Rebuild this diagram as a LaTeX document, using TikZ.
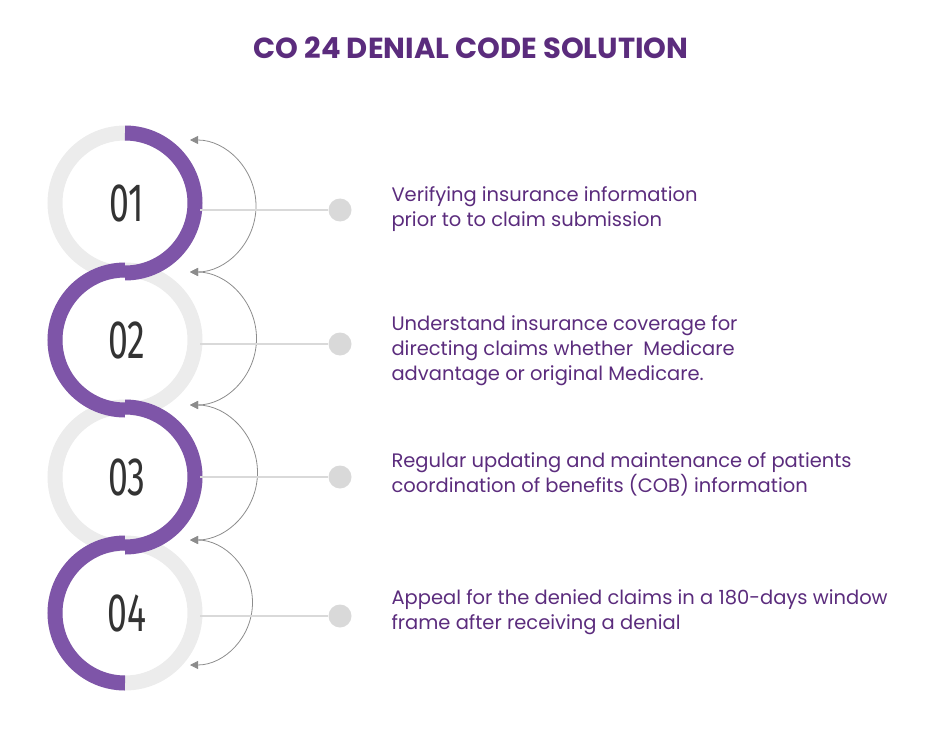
\documentclass[tikz,border=0pt]{standalone}
\usepackage{fontspec}
\setmainfont{Poppins}
\newfontfamily\numfont{Fira Sans}
\usetikzlibrary{arrows.meta,positioning}
\definecolor{plum}{HTML}{5B2C7D}
\definecolor{lilac}{HTML}{7E55A8}
\tikzset{
    ringsty/.style={line width=15pt,draw=lilac},
    shadesty/.style={line width=15pt,draw=gray!15},
    arcsty/.style={draw=gray!90,line width=0.8pt,{Triangle[width=8pt,length=8pt]}-{Triangle[width=8pt,length=8pt]}},
    linksty/.style={draw=gray!30,line width=2pt},
    dotsty/.style={circle,fill=gray!30,minimum size=23pt,inner sep=0pt},
    numsty/.style={font=\numfont\fontsize{54}{54}\selectfont,text=black!80,xscale=0.66},
    textsty/.style={anchor=west,align=left,text=plum,font=\fontsize{19.5}{25}\selectfont},
}
\begin{document}
\begin{tikzpicture}[x=1pt,y=-1pt]
\useasboundingbox (0,0) rectangle (942,746);
\node[font=\bfseries\fontsize{29}{32}\selectfont,text=plum] (title) at (471,48) {CO 24 DENIAL CODE SOLUTION};
% rings
\foreach \i/\y in {1/203,2/340,3/477,4/613}{
  \draw[shadesty] (125,\y) circle (70);
  \fill[white] (125,\y) circle (62);
}
\draw[ringsty] (125,133) arc (-90:90:70);
\draw[ringsty] (125,270) arc (-90:-270:70);
\draw[ringsty] (125,407) arc (-90:90:70);
\draw[ringsty] (125,543) arc (-90:-270:70);
% numbers
\node[numsty] (n1) at (127,203) {01};
\node[numsty] (n2) at (127,340) {02};
\node[numsty] (n3) at (127,477) {03};
\node[numsty] (n4) at (127,613) {04};
% connecting arcs
\foreach \ya/\yb in {140/272,272/405,405/540,540/665}{
  \draw[arcsty] (190,\ya) arc (-90:90:{(\yb-\ya)/2});
}
% dots and texts
\node[dotsty] (d1) at (340,210) {};
\node[dotsty] (d2) at (340,344) {};
\node[dotsty] (d3) at (340,477) {};
\node[dotsty] (d4) at (340,616) {};
\draw[linksty] (200,210) -- (d1);
\draw[linksty] (200,344) -- (d2);
\draw[linksty] (200,477) -- (d3);
\draw[linksty] (200,616) -- (d4);
\node[textsty] (t1) at (388,209) {Verifying insurance information\\prior to to claim submission};
\node[textsty] (t2) at (388,351) {Understand insurance coverage for\\directing claims whether\ \ Medicare\\advantage or original Medicare.};
\node[textsty] (t3) at (388,474) {Regular updating and maintenance of patients\\coordination of benefits (COB) information};
\node[textsty] (t4) at (388,612) {Appeal for the denied claims in a 180-days window\\frame after receiving a denial};
\end{tikzpicture}
\end{document}
